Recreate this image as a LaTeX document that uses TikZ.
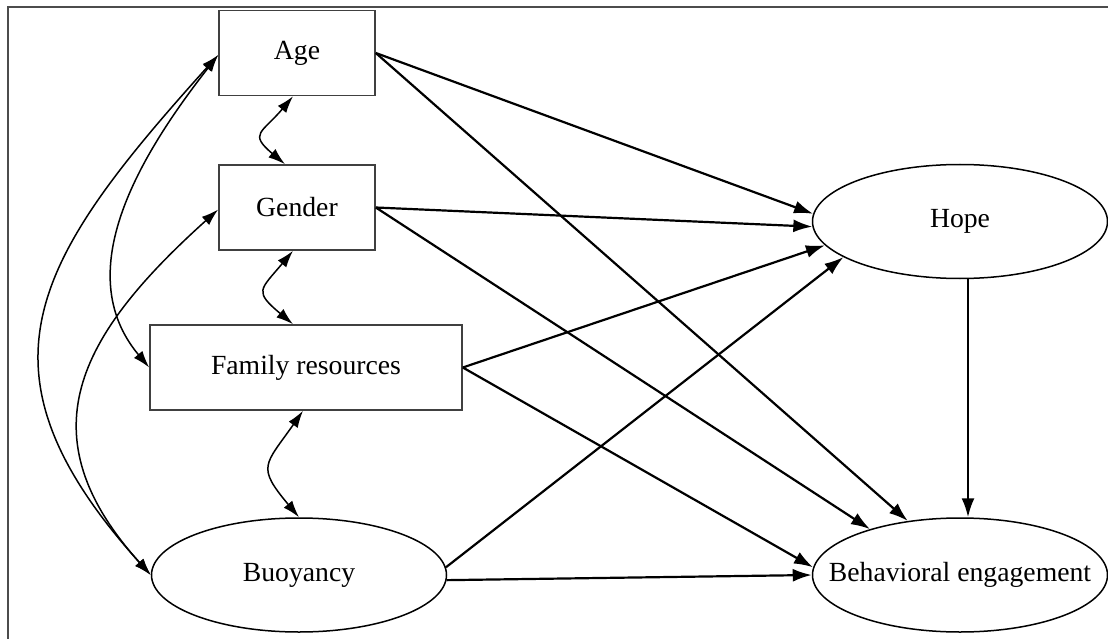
\documentclass[tikz,border=0pt]{standalone}
\usepackage{fontspec}
\setmainfont{Liberation Serif}
\usetikzlibrary{shapes.geometric,arrows.meta}

\begin{document}
\begin{tikzpicture}[x=1pt,y=-1pt,
  every node/.style={font=\fontsize{27.7pt}{32pt}\selectfont},
  obs/.style={draw=black!75,line width=1.6pt,minimum height=85pt,inner sep=0pt},
  lat/.style={ellipse,draw,line width=1.5pt,minimum width=295pt,minimum height=114pt,inner xsep=-27pt,inner ysep=0pt},
  pth/.style={line width=2.2pt,-{Latex[length=19pt,width=13pt]}},
  cov/.style={line width=1.5pt,{Latex[length=17pt,width=11pt]}-{Latex[length=17pt,width=11pt]}}]

\useasboundingbox (0,0) rectangle (1108,639);
\draw[black!70,line width=1.2pt](8,639)--(8,7)--(1108,7);

\node[obs,minimum width=156pt](age) at (297,53) {Age};
\node[obs,minimum width=156pt](gender) at (297,207.5) {Gender};
\node[obs,minimum width=312pt](family) at (306,367.5) {Family resources};
\node[lat](buoy) at (299,575) {Buoyancy};
\node[lat](hope) at (960,221.5) {Hope};
\node[lat](be) at (960,575) {Behavioral engagement};

\draw[pth](age.east)--(hope.177);
\draw[pth](age.east)--(be.134);
\draw[pth](gender.east)--(hope.182);
\draw[pth](gender.east)--(be.153);
\draw[pth](family.east)--(hope.190);
\draw[pth](family.east)--(be.177);
\draw[pth](buoy.3)--(hope.197);
\draw[pth](buoy.358)--(be.180);
\draw[pth]([xshift=8pt]hope.south)--([xshift=8pt]be.north);

\draw[cov]([xshift=-4pt]age.south) to[out=230,in=140,looseness=1.8] ([xshift=-12pt]gender.north);
\draw[cov]([xshift=-4pt]gender.south) to[out=230,in=140,looseness=1.8] ([xshift=-13pt]family.north);
\draw[cov]([xshift=-3pt]family.south) to[out=235,in=130,looseness=1.6] (buoy.north);
\draw[cov]([yshift=-2pt]age.west) to[out=232,in=130] (family.west);
\draw[cov]([yshift=-2pt]age.west) to[out=228,in=132,looseness=1.35] (buoy.west);
\draw[cov]([yshift=-2pt]gender.west) to[out=222,in=132,looseness=1.3] (buoy.west);

\end{tikzpicture}
\end{document}
